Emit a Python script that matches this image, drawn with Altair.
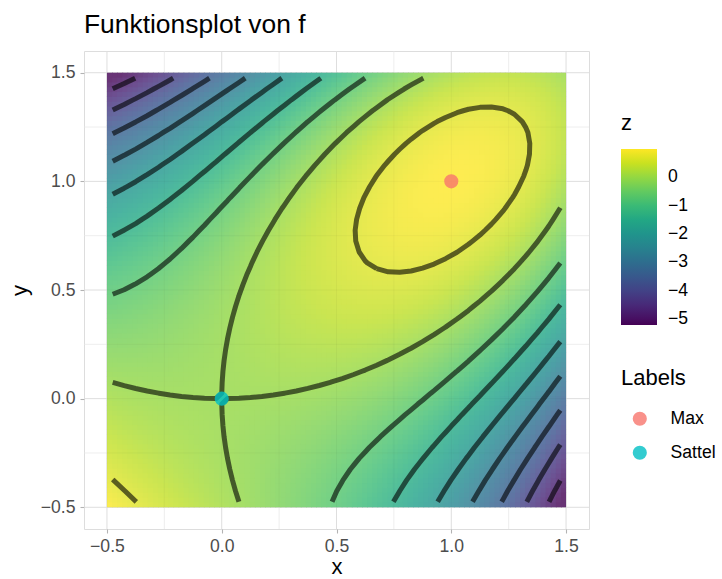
import numpy as np
import pandas as pd
import altair as alt

# ---------------- data ----------------
# plotted function: f(x, y) = 3*x*y - x^3 - y^3  (max at (1,1), saddle at (0,0))
COEF_XY = 3.0
COEF_X3 = -1.0
COEF_Y3 = -1.0
X_LIMITS = [-0.5, 1.5]          # extent of the raster
Y_LIMITS = [-0.5, 1.5]
GRID_STEP = 0.05                # sample grid: cell centres -0.475 ... 1.475
N_CONTOUR_BINS = 10
AXIS_TICKS = [-0.5, 0.0, 0.5, 1.0, 1.5]
MINOR_TICKS = [-0.25, 0.25, 0.75, 1.25]
LEGEND_TICKS = [-5, -4, -3, -2, -1, 0]
POINT_LABELS = ["Max", "Sattel"]
POINT_X = [1.0, 0.0]
POINT_Y = [1.0, 0.0]
POINT_COLORS = ["#F8766D", "#00BFC4"]
VIRIDIS = ["#440154", "#482475", "#414487", "#355F8D", "#2A788E", "#21918C",
           "#22A884", "#44BF70", "#7AD151", "#BDDF26", "#FDE725"]
RASTER_ALPHA = 0.8

FONT = "Liberation Sans"
W, H = 505, 478
DOM = [-0.6, 1.6]


def f(x, y):
    return COEF_XY * x * y + COEF_X3 * x ** 3 + COEF_Y3 * y ** 3


# ---------------- sample grid ----------------
gx = np.arange(X_LIMITS[0] + GRID_STEP / 2, X_LIMITS[1], GRID_STEP)
gy = np.arange(Y_LIMITS[0] + GRID_STEP / 2, Y_LIMITS[1], GRID_STEP)
GX, GY = np.meshgrid(gx, gy)
Z = f(GX, GY)
Z_LIMITS = [float(Z.min()), float(Z.max())]

# ---------------- raster table (smooth image) ----------------
NR = 90
ex = np.linspace(X_LIMITS[0], X_LIMITS[1], NR + 1)
ey = np.linspace(Y_LIMITS[0], Y_LIMITS[1], NR + 1)
ov = 0.004
rows = []
for i in range(NR):
    for j in range(NR):
        cx = 0.5 * (ex[i] + ex[i + 1])
        cy = 0.5 * (ey[j] + ey[j + 1])
        rows.append((ex[i], min(ex[i + 1] + ov, X_LIMITS[1]),
                     ey[j], min(ey[j + 1] + ov, Y_LIMITS[1]), f(cx, cy)))
raster = pd.DataFrame(rows, columns=["x", "x2", "y", "y2", "z"])


def blend(h, a):
    h = h.lstrip("#")
    c = [int(h[k:k + 2], 16) for k in (0, 2, 4)]
    c = [round(a * v + (1 - a) * 255) for v in c]
    return "#%02x%02x%02x" % tuple(c)


raster_range = [blend(c, RASTER_ALPHA) for c in VIRIDIS]
raster_domain = list(np.linspace(Z_LIMITS[0], Z_LIMITS[1], len(VIRIDIS)))

# ---------------- contour lines (marching squares on the sample grid) ----------------
NGX, NGY = len(gx), len(gy)
bw = (Z_LIMITS[1] - Z_LIMITS[0]) / (N_CONTOUR_BINS - 1)
levels = [k * bw for k in range(int(np.floor(Z_LIMITS[0] / bw)), int(np.ceil(Z_LIMITS[1] / bw)) + 1)]


def contour_lines(level):
    above = Z > level
    adj = {}

    def add(p, q):
        adj.setdefault(p, []).append(q)
        adj.setdefault(q, []).append(p)

    for j in range(NGY - 1):
        for i in range(NGX - 1):
            a, b, c, d = above[j, i], above[j, i + 1], above[j + 1, i + 1], above[j + 1, i]
            if a == b == c == d:
                continue
            bottom, right, top, left = ("h", i, j), ("v", i + 1, j), ("h", i, j + 1), ("v", i, j)
            cr = []
            if a != b:
                cr.append(bottom)
            if b != c:
                cr.append(right)
            if c != d:
                cr.append(top)
            if d != a:
                cr.append(left)
            if len(cr) == 2:
                add(cr[0], cr[1])
            else:
                center = (Z[j, i] + Z[j, i + 1] + Z[j + 1, i + 1] + Z[j + 1, i]) / 4 > level
                if center == a:
                    add(bottom, right)
                    add(top, left)
                else:
                    add(bottom, left)
                    add(right, top)

    def pt(key):
        kind, i, j = key
        if kind == "h":
            z0, z1 = Z[j, i], Z[j, i + 1]
            t = (level - z0) / (z1 - z0)
            return gx[i] + t * (gx[i + 1] - gx[i]), gy[j]
        z0, z1 = Z[j, i], Z[j + 1, i]
        t = (level - z0) / (z1 - z0)
        return gx[i], gy[j] + t * (gy[j + 1] - gy[j])

    visited = set()

    def walk(start):
        line = [start]
        visited.add(start)
        cur = start
        while True:
            nx = [n for n in adj[cur] if n not in visited]
            if not nx:
                break
            cur = nx[0]
            visited.add(cur)
            line.append(cur)
        return line

    out = []
    for k, v in adj.items():
        if len(v) == 1 and k not in visited:
            out.append([pt(q) for q in walk(k)])
    for k in list(adj.keys()):
        if k not in visited:
            l = walk(k)
            l.append(l[0])
            out.append([pt(q) for q in l])
    return out


crow = []
lid = 0
for lev in levels:
    for line in contour_lines(lev):
        for o, (px, py) in enumerate(line):
            crow.append((px, py, lid, o))
        lid += 1
contours = pd.DataFrame(crow, columns=["x", "y", "lid", "ord"])

points = pd.DataFrame({"x": POINT_X, "y": POINT_Y, "Labels": POINT_LABELS})
legend_dummy = pd.DataFrame({"z": Z_LIMITS, "x": [0.5, 0.5], "y": [0.5, 0.5]})
major = pd.DataFrame({"v": AXIS_TICKS})
minor = pd.DataFrame({"v": MINOR_TICKS})
over = pd.DataFrame({"v": AXIS_TICKS + MINOR_TICKS,
                     "lo": [X_LIMITS[0]] * 9, "hi": [X_LIMITS[1]] * 9})

# ---------------- chart ----------------
sc = alt.Scale(domain=DOM, nice=False, zero=False)

axis_common = dict(values=AXIS_TICKS, format=".1f", grid=False, domain=False,
                   tickColor="#B3B3B3", tickSize=4, tickWidth=1.1,
                   labelFont=FONT, labelFontSize=17.6, labelColor="#4D4D4D",
                   titleFont=FONT, titleFontSize=22, titleColor="#000000",
                   titleFontWeight="normal")
AX_X = alt.Axis(title="x", labelPadding=4, titlePadding=2, **axis_common)
AX_Y = alt.Axis(title="y", labelPadding=5, titlePadding=9, **axis_common)


def X(field="x"):
    return alt.X(f"{field}:Q", scale=sc, axis=AX_X)


def Y(field="y"):
    return alt.Y(f"{field}:Q", scale=sc, axis=AX_Y)


grid_major_v = alt.Chart(major).mark_rule(color="#DEDEDE", strokeWidth=1.0).encode(x=X("v"))
grid_major_h = alt.Chart(major).mark_rule(color="#DEDEDE", strokeWidth=1.0).encode(y=Y("v"))
grid_minor_v = alt.Chart(minor).mark_rule(color="#E6E6E6", strokeWidth=0.7).encode(x=X("v"))
grid_minor_h = alt.Chart(minor).mark_rule(color="#E6E6E6", strokeWidth=0.7).encode(y=Y("v"))

legend_layer = alt.Chart(legend_dummy).mark_rect().encode(
    x=X(), x2="x", y=Y(), y2="y",
    fill=alt.Fill("z:Q", title="z",
                  scale=alt.Scale(scheme="viridis", domain=Z_LIMITS, nice=False, zero=False),
                  legend=alt.Legend(orient="none", legendX=537, legendY=62, direction="vertical",
                                    values=LEGEND_TICKS, gradientLength=176, gradientThickness=36,
                                    labelOffset=11, labelFont=FONT, labelFontSize=17.6,
                                    labelColor="#000000", labelOverlap=False,
                                    titleFont=FONT, titleFontSize=22, titleFontWeight="normal",
                                    titleColor="#000000", titlePadding=14,
                                    gradientStrokeWidth=0)),
)

raster_layer = alt.Chart(raster).mark_rect(strokeWidth=0).encode(
    x=X(), x2="x2", y=Y(), y2="y2",
    fill=alt.Fill("z:Q", scale=alt.Scale(domain=raster_domain, range=raster_range,
                                         nice=False, zero=False, clamp=True), legend=None),
)

grid_over_v = alt.Chart(over).mark_rule(color="#000000", opacity=0.03, strokeWidth=1).encode(
    x=X("v"), y=Y("lo"), y2="hi")
grid_over_h = alt.Chart(over).mark_rule(color="#000000", opacity=0.03, strokeWidth=1).encode(
    y=Y("v"), x=X("lo"), x2="hi")

contour_layer = alt.Chart(contours).mark_line(
    color="#000000", opacity=0.6, strokeWidth=5, strokeCap="butt", strokeJoin="round"
).encode(x=X(), y=Y(), detail="lid:N", order="ord:Q")

point_layer = alt.Chart(points).mark_circle(size=200, opacity=0.8).encode(
    x=X(), y=Y(),
    color=alt.Color("Labels:N", scale=alt.Scale(domain=POINT_LABELS, range=POINT_COLORS),
                    legend=alt.Legend(orient="none", legendX=537, legendY=317,
                                      title="Labels", symbolType="circle", symbolSize=200,
                                      symbolOpacity=0.8, symbolStrokeWidth=0,
                                      symbolOffset=10, labelOffset=22, rowPadding=15,
                                      labelFont=FONT, labelFontSize=17.6, labelColor="#000000",
                                      titleFont=FONT, titleFontSize=22, titleFontWeight="normal",
                                      titleColor="#000000", titlePadding=20)),
)

chart = alt.layer(
    grid_minor_v, grid_minor_h, grid_major_v, grid_major_h,
    legend_layer, raster_layer, grid_over_v, grid_over_h, contour_layer, point_layer
).resolve_scale(fill="independent").properties(
    width=W, height=H,
    title=alt.Title("Funktionsplot von f", anchor="start", frame="group", font=FONT,
                    fontSize=26.4, fontWeight="normal", color="#000000", offset=12),
    autosize=alt.AutoSizeParams(type="none"),
    padding={"left": 84, "top": 51, "right": 133, "bottom": 50},
).configure_view(stroke="#B3B3B3", strokeWidth=1.2).configure(background="#FFFFFF")

chart.save("out.html", embed_options={"renderer": "svg", "actions": False})
